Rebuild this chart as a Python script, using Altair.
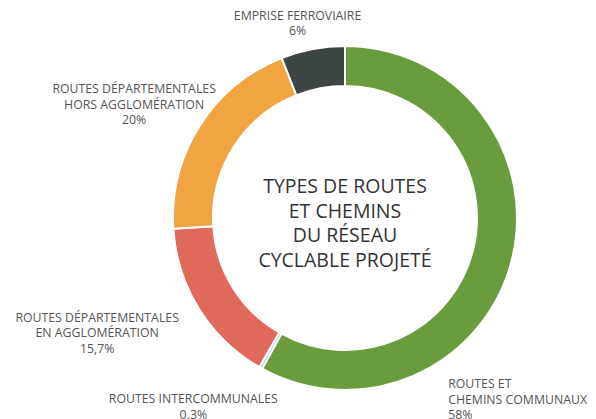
import altair as alt
import pandas as pd

categories = [
    "ROUTES ET\nCHEMINS COMMUNAUX",
    "ROUTES INTERCOMMUNALES",
    "ROUTES DÉPARTEMENTALES\nEN AGGLOMÉRATION",
    "ROUTES DÉPARTEMENTALES\nHORS AGGLOMÉRATION",
    "EMPRISE FERROVIAIRE",
]
values = [58, 0.3, 15.7, 20, 6]
value_labels = ["58%", "0.3%", "15,7%", "20%", "6%"]
colors = ["#6a9c3e", "#a9c9cb", "#e0695a", "#f0a541", "#3e4645"]

df = pd.DataFrame({
    "cat": categories,
    "value": values,
    "label": [c + "\n" + v for c, v in zip(categories, value_labels)],
    "order": list(range(len(categories))),
})

CX, CY = 337, 210
theta_scale = alt.Scale(domain=[0, 100], range=[0, 6.283185307])

base = alt.Chart(df).transform_stack(
    stack="value", groupby=[], as_=["start", "end"], sort=[alt.SortField("order")]
).transform_calculate(mid="(datum.start + datum.end) / 2")

arcs = base.mark_arc(innerRadius=132, outerRadius=172, stroke="white", strokeWidth=2).encode(
    theta=alt.Theta("start:Q", scale=theta_scale),
    theta2="end:Q",
    color=alt.Color("cat:N", scale=alt.Scale(domain=categories, range=colors), legend=None),
    x=alt.value(CX),
    y=alt.value(CY),
)

# label placement styles: (radius, dx, dy, align)
label_styles = {
    categories[0]: (185, -76, 120, "left"),
    categories[1]: (185, -61, 20, "center"),
    categories[2]: (200, -78, -6, "center"),
    categories[3]: (200, -42, -22, "center"),
    categories[4]: (200, -10, -6, "center"),
}

layers = [arcs]
for cat, (r, dx, dy, align) in label_styles.items():
    layers.append(
        base.transform_filter(alt.datum.cat == cat).mark_text(
            lineBreak="\n", font="Open Sans", fontSize=12.3, color="#555555",
            align=align, baseline="middle", radius=r, dx=dx, dy=dy, lineHeight=15.7,
        ).encode(
            theta=alt.Theta("mid:Q", scale=theta_scale),
            text="label:N",
            x=alt.value(CX),
            y=alt.value(CY),
        )
    )

title_lines = ["TYPES DE ROUTES", "ET CHEMINS", "DU RÉSEAU", "CYCLABLE PROJETÉ"]
title = alt.Chart(pd.DataFrame({"t": ["\n".join(title_lines)]})).mark_text(
    lineBreak="\n", font="Open Sans", fontSize=19.5, color="#333333",
    align="center", baseline="middle", lineHeight=24.5, dy=-31,
).encode(text="t:N", x=alt.value(CX), y=alt.value(CY))
layers.append(title)

chart = alt.layer(*layers).properties(
    width=580, height=411, padding=0, autosize=alt.AutoSizeParams(type="none"),
    background="white",
).configure_view(stroke=None)

chart.save("out.html", embed_options={"renderer": "svg", "actions": False})
